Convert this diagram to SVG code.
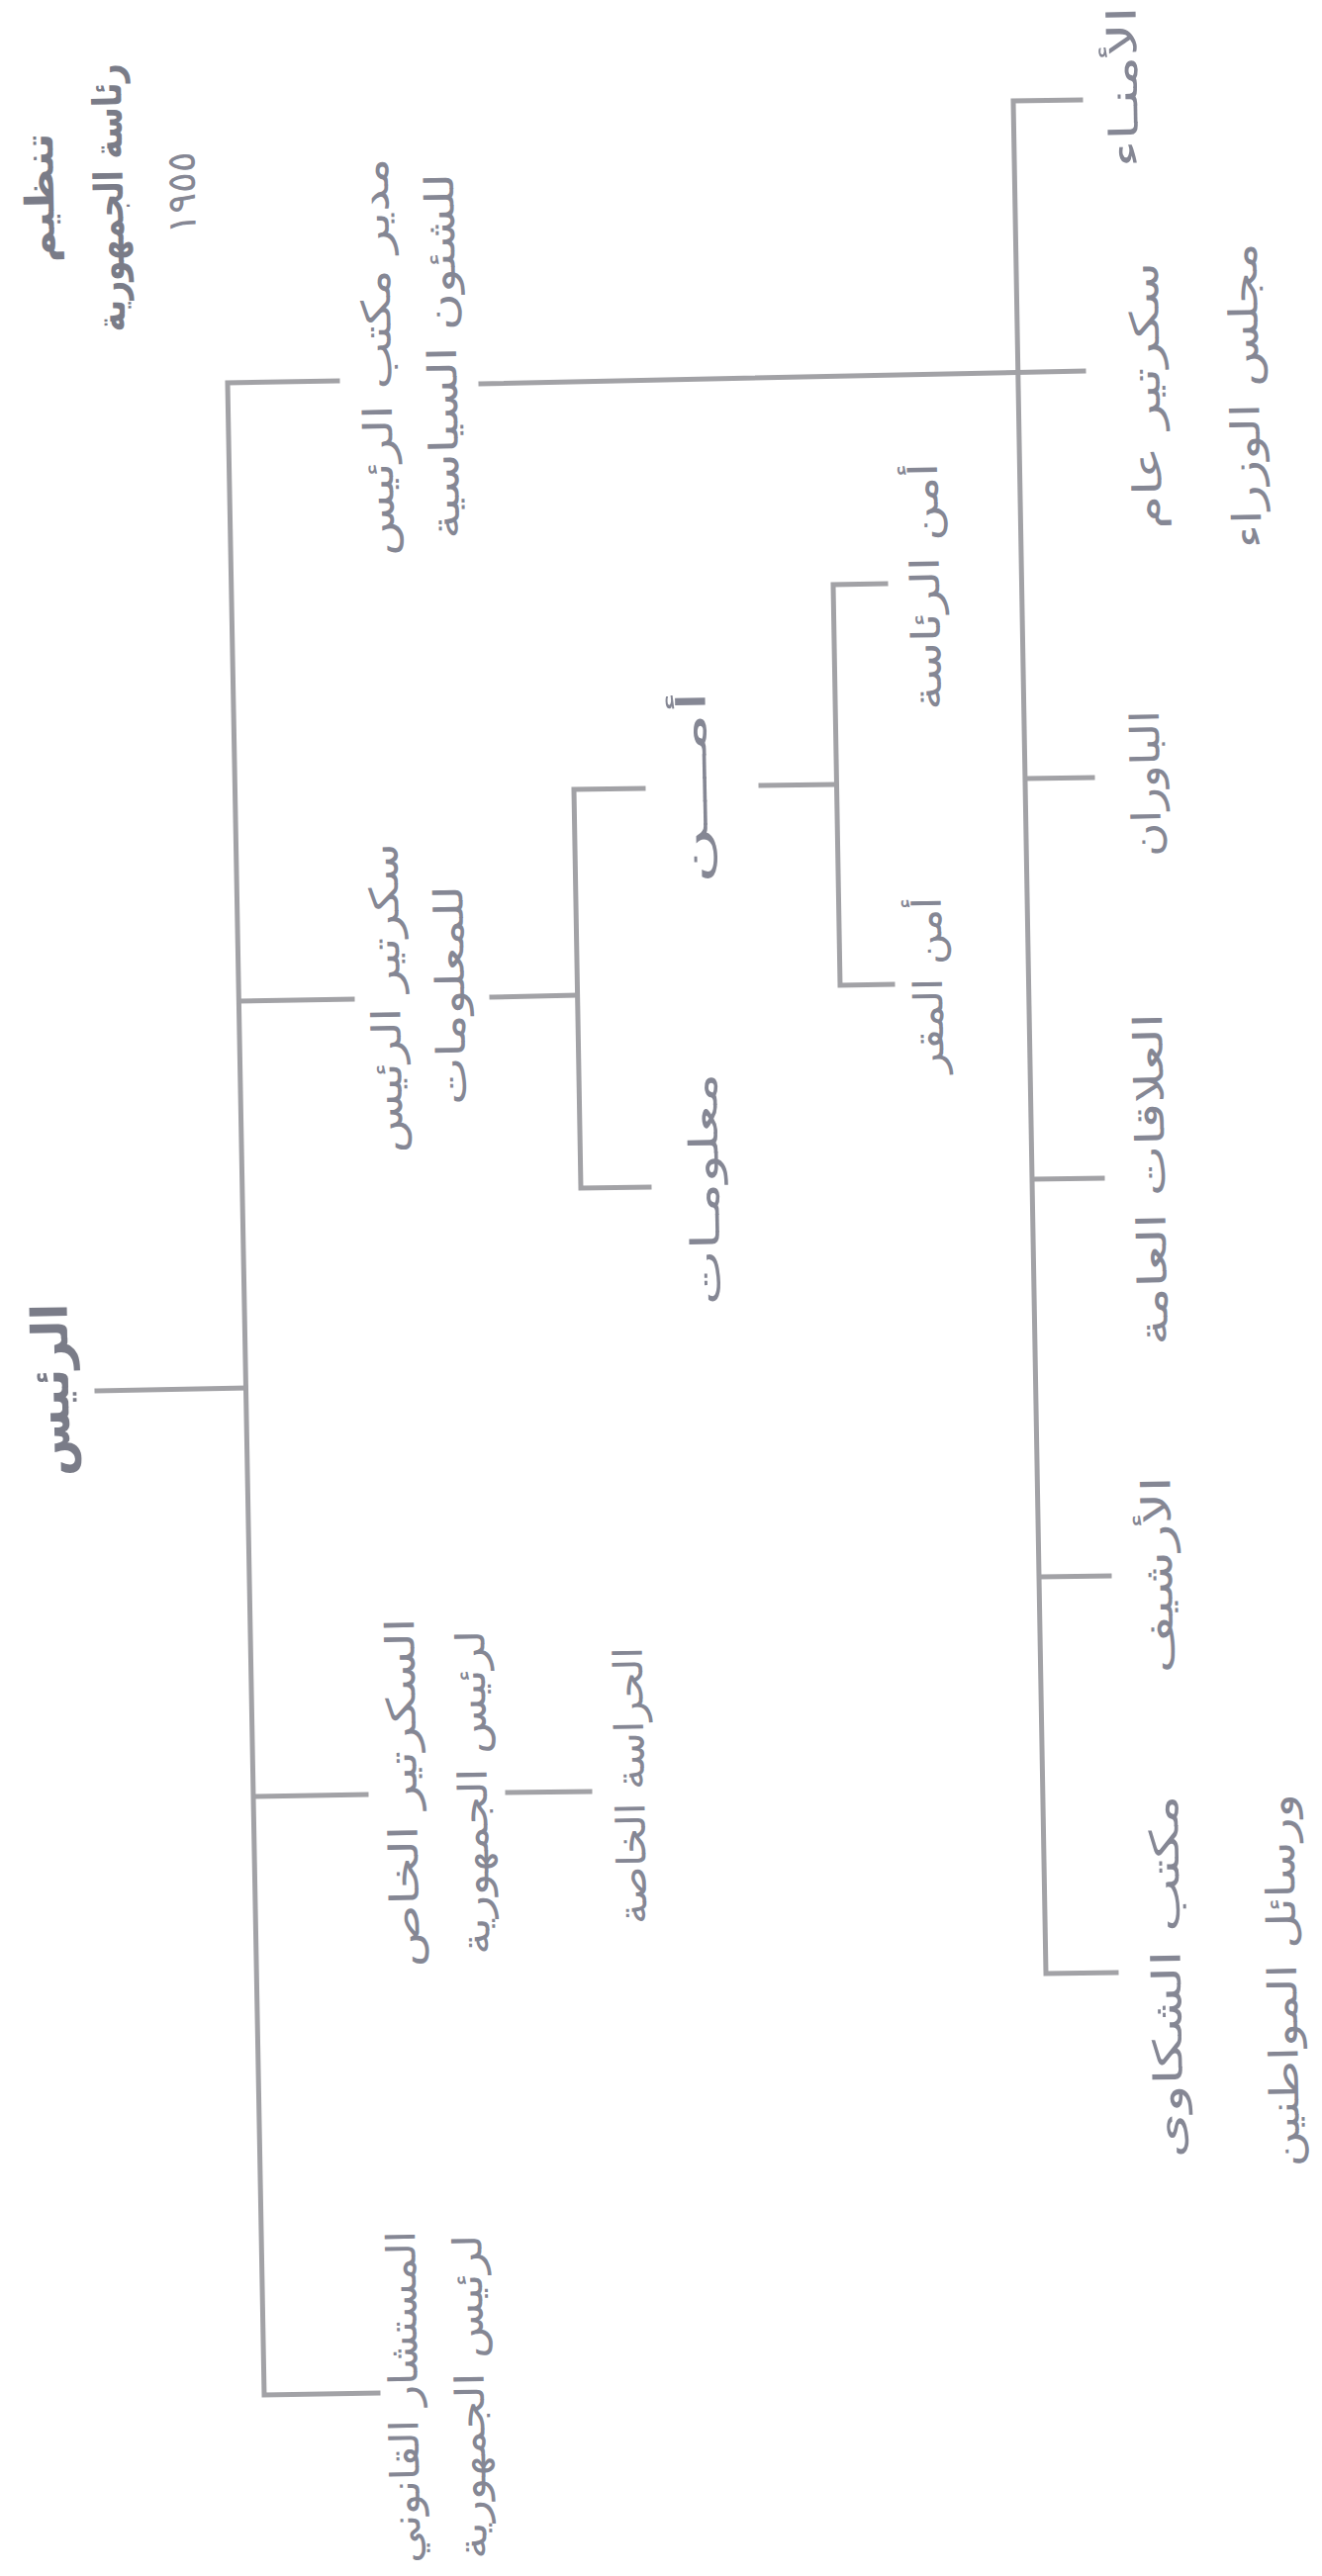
<svg xmlns="http://www.w3.org/2000/svg" width="1336" height="2604" viewBox="0 0 1336 2604">
<style>
.c{stroke:#a2a2a6;stroke-width:5;fill:none;stroke-linecap:square;stroke-linejoin:miter}
.t{font-family:"DejaVu Sans","Noto Sans",sans-serif;font-size:40px;fill:#858794;text-anchor:middle;dominant-baseline:central}
.b{font-weight:bold;fill:#7a7c88}
.h{font-size:50px}
</style>
<rect width="1336" height="2604" fill="#ffffff"/>
<g id="connectors">
<path class="c" d="M341 385 L230 387 L267 2421 L382 2419"/>
<path class="c" d="M98 1406 L248 1403"/>
<path class="c" d="M242 1012 L356 1010"/>
<path class="c" d="M260 1816 L370 1814"/>
<path class="c" d="M486 388 L1095 375"/>
<path class="c" d="M497 1008 L581 1006"/>
<path class="c" d="M650 797 L580 798 L587 1201 L656 1200"/>
<path class="c" d="M769 794 L842 793"/>
<path class="c" d="M895 590 L842 591 L849 996 L902 995"/>
<path class="c" d="M1092 101 L1024 102 L1057 1995 L1128 1994"/>
<path class="c" d="M1038 787 L1104 786"/>
<path class="c" d="M1045 1192 L1114 1191"/>
<path class="c" d="M1052 1594 L1121 1593"/>
<path class="c" d="M513 1812 L596 1811"/>
</g>
<g id="title">
<text class="t b" font-size="46" transform="translate(40,200) rotate(-91)" textLength="131" lengthAdjust="spacingAndGlyphs">تنظيم</text>
<text class="t b" font-size="44" transform="translate(110,200) rotate(-91)" textLength="271" lengthAdjust="spacingAndGlyphs">رئاسة الجمهورية</text>
<text class="t" font-size="42" transform="translate(183,195) rotate(-91)" textLength="83" lengthAdjust="spacingAndGlyphs">١٩٥٥</text>
</g>
<g id="n-president">
<text class="t b h" transform="translate(52,1405) rotate(-91)" textLength="175" lengthAdjust="spacingAndGlyphs">الرئيس</text>
</g>
<g id="n-political">
<text class="t" transform="translate(381,361) rotate(-91)" textLength="402" lengthAdjust="spacingAndGlyphs">مدير مكتب الرئيس</text>
<text class="t" transform="translate(447,360) rotate(-91)" textLength="370" lengthAdjust="spacingAndGlyphs">للشئون السياسية</text>
</g>
<g id="n-info-sec">
<text class="t" transform="translate(390,1009) rotate(-91)" textLength="313" lengthAdjust="spacingAndGlyphs">سكرتير الرئيس</text>
<text class="t" transform="translate(455,1006) rotate(-91)" textLength="222" lengthAdjust="spacingAndGlyphs">للمعلومات</text>
</g>
<g id="n-security">
<text class="t" transform="translate(700,796) rotate(-91)" textLength="196" lengthAdjust="spacingAndGlyphs">أمـــن</text>
</g>
<g id="n-information">
<text class="t" transform="translate(712,1202) rotate(-91)" textLength="235" lengthAdjust="spacingAndGlyphs">معلومـات</text>
</g>
<g id="n-pres-security">
<text class="t" transform="translate(935,593) rotate(-91)" textLength="250" lengthAdjust="spacingAndGlyphs">أمن الرئاسة</text>
</g>
<g id="n-hq-security">
<text class="t" transform="translate(938,996) rotate(-91)" textLength="178" lengthAdjust="spacingAndGlyphs">أمن المقر</text>
</g>
<g id="n-private-sec">
<text class="t" transform="translate(407,1812) rotate(-91)" textLength="353" lengthAdjust="spacingAndGlyphs">السكرتير الخاص</text>
<text class="t" transform="translate(478,1812) rotate(-91)" textLength="328" lengthAdjust="spacingAndGlyphs">لرئيس الجمهورية</text>
</g>
<g id="n-guard">
<text class="t" transform="translate(637,1805) rotate(-91)" textLength="280" lengthAdjust="spacingAndGlyphs">الحراسة الخاصة</text>
</g>
<g id="n-legal">
<text class="t" transform="translate(408,2423) rotate(-91)" textLength="336" lengthAdjust="spacingAndGlyphs">المستشار القانوني</text>
<text class="t" transform="translate(475,2423) rotate(-91)" textLength="328" lengthAdjust="spacingAndGlyphs">لرئيس الجمهورية</text>
</g>
<g id="n-trustees">
<text class="t" transform="translate(1135,88) rotate(-91)" textLength="163" lengthAdjust="spacingAndGlyphs">الأمنـاء</text>
</g>
<g id="n-cabinet">
<text class="t" transform="translate(1158,400) rotate(-91)" textLength="270" lengthAdjust="spacingAndGlyphs">سكرتير عام</text>
<text class="t" transform="translate(1258,400) rotate(-91)" textLength="309" lengthAdjust="spacingAndGlyphs">مجلس الوزراء</text>
</g>
<g id="n-bawran">
<text class="t" transform="translate(1158,792) rotate(-91)" textLength="148" lengthAdjust="spacingAndGlyphs">الباوران</text>
</g>
<g id="n-pr">
<text class="t" transform="translate(1163,1192) rotate(-91)" textLength="336" lengthAdjust="spacingAndGlyphs">العلاقات العامة</text>
</g>
<g id="n-archive">
<text class="t" transform="translate(1170,1592) rotate(-91)" textLength="199" lengthAdjust="spacingAndGlyphs">الأرشيف</text>
</g>
<g id="n-complaints">
<text class="t" transform="translate(1179,1998) rotate(-91)" textLength="367" lengthAdjust="spacingAndGlyphs">مكتب الشكاوى</text>
<text class="t" transform="translate(1296,2002) rotate(-91)" textLength="377" lengthAdjust="spacingAndGlyphs">ورسائل المواطنين</text>
</g>
</svg>
